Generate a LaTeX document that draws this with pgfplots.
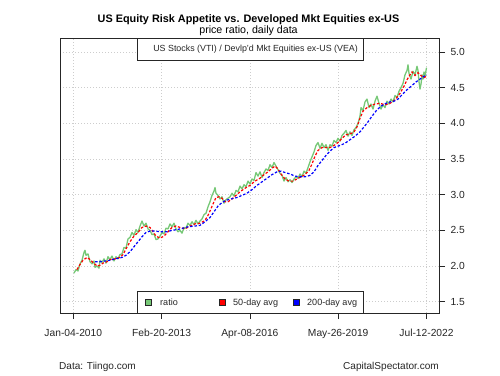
\documentclass[border=0pt]{standalone}
\usepackage{fontspec}
\setmainfont{Liberation Sans}
\usepackage{pgfplots}
\pgfplotsset{compat=1.18}
\definecolor{ratiogreen}{RGB}{118,200,118}
\definecolor{gridgray}{RGB}{205,205,205}
\begin{document}
\begin{tikzpicture}[x=1bp,y=1bp]
\path[use as bounding box] (0,0) rectangle (500,375);
\begin{axis}[at={(60bp,62bp)}, anchor=south west,
  width=379bp, height=275bp, scale only axis,
  xmin=60, xmax=439, ymin=1.341, ymax=5.196,
  xtick={73.3,161.6,249.9,338.2,426.5},
  xticklabels={Jan-04-2010,Feb-20-2013,Apr-08-2016,May-26-2019,Jul-12-2022},
  ytick={1.5,2.0,2.5,3.0,3.5,4.0,4.5,5.0},
  yticklabel style={/pgf/number format/fixed,/pgf/number format/fixed zerofill,/pgf/number format/precision=1},
  /pgf/number format/assume math mode=true,
  xtick pos=bottom, ytick pos=right,
  tick align=outside, major tick length=6bp,
  tick style={black!85, line width=0.6bp},
  grid=major, grid style={gridgray, dash pattern=on 1bp off 2bp, line width=0.7bp},
  axis line style={black!85, line width=0.8bp},
  tick label style={font=\fontsize{10.3}{12}\selectfont, text=black!85},
  x tick label style={yshift=-7bp},
  y tick label style={xshift=2bp},
  clip=true]
\addplot[ratiogreen, line width=1.3bp, line join=round] coordinates {
(74,1.90) (76,1.95) (78,1.93) (80,2.03) (82,2.08) (84,2.19) (85,2.22) (86,2.15) (88,2.17) (90,2.06)
(92,2.03) (94,2.07) (95,1.98) (97,2.00) (99,1.97) (100,2.08) (102,2.05) (104,2.10) (106,2.04) (108,2.13)
(110,2.09) (112,2.14) (114,2.07) (116,2.13) (118,2.10) (120,2.16) (122,2.17) (124,2.26) (126,2.25) (128,2.38)
(130,2.40) (132,2.47) (134,2.43) (136,2.51) (138,2.47) (140,2.56) (142,2.63) (144,2.56) (146,2.60) (148,2.52)
(150,2.50) (152,2.44) (154,2.45) (156,2.37) (158,2.38) (160,2.42) (162,2.47) (164,2.45) (166,2.53) (168,2.52)
(170,2.59) (172,2.55) (174,2.60) (176,2.52) (178,2.48) (180,2.50) (182,2.46) (184,2.54) (186,2.53) (188,2.60)
(190,2.57) (192,2.62) (194,2.58) (196,2.64) (198,2.59) (200,2.63) (202,2.66) (204,2.72) (206,2.74) (208,2.83)
(210,2.90) (212,2.99) (214,3.05) (215,3.10) (216,3.02) (218,2.99) (220,2.94) (222,2.97) (224,2.88) (226,2.93)
(228,2.95) (230,2.97) (232,3.02) (234,2.98) (236,3.06) (238,3.04) (240,3.12) (242,3.08) (244,3.14) (246,3.11)
(248,3.19) (250,3.15) (252,3.22) (254,3.20) (256,3.31) (258,3.26) (260,3.32) (262,3.24) (264,3.31) (266,3.36)
(268,3.34) (270,3.42) (272,3.38) (274,3.45) (276,3.40) (278,3.35) (280,3.30) (282,3.27) (284,3.19) (286,3.24)
(288,3.18) (290,3.21) (292,3.17) (294,3.22) (296,3.25) (298,3.23) (300,3.29) (302,3.25) (304,3.33) (306,3.30)
(308,3.38) (310,3.46) (312,3.53) (314,3.60) (316,3.69) (318,3.73) (320,3.65) (322,3.72) (324,3.66) (326,3.70)
(328,3.62) (330,3.70) (332,3.68) (334,3.76) (336,3.73) (338,3.79) (340,3.75) (342,3.83) (344,3.86) (346,3.90)
(348,3.82) (350,3.88) (352,3.83) (354,3.91) (356,3.94) (358,4.00) (360,4.10) (361,4.22) (363,4.18) (365,4.30)
(367,4.34) (369,4.22) (371,4.27) (373,4.20) (375,4.31) (377,4.38) (379,4.28) (381,4.20) (383,4.26) (385,4.22)
(387,4.31) (389,4.27) (391,4.34) (393,4.30) (395,4.39) (397,4.36) (399,4.45) (401,4.50) (403,4.56) (405,4.68)
(407,4.74) (408,4.82) (409,4.70) (411,4.62) (413,4.73) (415,4.68) (417,4.80) (418,4.74) (419,4.58) (420,4.48)
(421,4.55) (422,4.68) (423,4.62) (424,4.72) (425,4.66) (426.5,4.78)
};
\addplot[red, line width=1.2bp, dash pattern=on 2.5bp off 1.8bp] coordinates {
(77,1.95) (80,2.02) (83,2.08) (87,2.12) (90,2.09) (93,2.05) (97,2.00) (100,2.01) (103,2.04) (107,2.06)
(110,2.09) (115,2.10) (120,2.12) (123,2.16) (126,2.24) (130,2.34) (134,2.42) (138,2.47) (142,2.54) (146,2.56)
(150,2.54) (153,2.48) (156,2.42) (160,2.39) (164,2.42) (168,2.48) (172,2.54) (176,2.56) (180,2.54) (185,2.52)
(190,2.56) (195,2.59) (200,2.60) (204,2.63) (207,2.68) (210,2.77) (213,2.87) (216,2.96) (219,2.97) (222,2.95)
(225,2.90) (228,2.90) (232,2.94) (236,2.99) (240,3.04) (245,3.09) (250,3.13) (255,3.19) (260,3.23) (264,3.28)
(268,3.32) (272,3.37) (275,3.40) (278,3.36) (281,3.29) (285,3.22) (289,3.19) (293,3.19) (297,3.22) (301,3.25)
(305,3.28) (309,3.34) (312,3.43) (315,3.54) (318,3.62) (322,3.66) (326,3.66) (330,3.66) (334,3.69) (338,3.73)
(342,3.79) (346,3.84) (350,3.85) (354,3.88) (357,3.95) (360,4.07) (363,4.17) (367,4.22) (371,4.25) (375,4.27)
(380,4.28) (385,4.26) (390,4.28) (395,4.33) (400,4.42) (404,4.52) (407,4.61) (410,4.68) (412,4.72) (415,4.67)
(418,4.71) (421,4.67) (424,4.64) (426.5,4.66)
};
\addplot[blue, line width=1.2bp, dash pattern=on 2.5bp off 1.8bp] coordinates {
(95,2.06) (100,2.06) (105,2.07) (110,2.08) (115,2.10) (122,2.12) (126,2.15) (130,2.20) (134,2.27) (138,2.34)
(142,2.41) (146,2.47) (150,2.49) (155,2.49) (160,2.48) (167,2.48) (172,2.50) (177,2.51) (183,2.53) (188,2.55)
(195,2.56) (200,2.57) (205,2.62) (210,2.68) (214,2.76) (218,2.84) (222,2.89) (226,2.92) (231,2.94) (237,2.96)
(242,2.99) (247,3.02) (252,3.07) (257,3.13) (262,3.18) (267,3.23) (272,3.28) (277,3.32) (281,3.33) (285,3.31)
(290,3.29) (295,3.26) (300,3.25) (305,3.25) (310,3.27) (314,3.32) (318,3.41) (322,3.48) (326,3.55) (330,3.61)
(334,3.66) (340,3.69) (345,3.72) (350,3.77) (355,3.82) (360,3.88) (364,3.95) (368,4.02) (372,4.10) (377,4.19)
(382,4.25) (386,4.28) (390,4.30) (394,4.31) (398,4.34) (402,4.40) (407,4.47) (412,4.53) (416,4.58) (420,4.62)
(423,4.65) (426.5,4.68)
};
\end{axis}
% legends
\draw[black!85, line width=0.8bp, fill=white] (137,337) rectangle (363,315);
\node[anchor=east, inner sep=0pt, font=\fontsize{8.9}{10}\selectfont, text=black!85] at (358,326) {US Stocks (VTI) / Devlp'd Mkt Equities ex-US (VEA)};
\draw[black!85, line width=0.8bp, fill=white] (137,84) rectangle (363,62);
\draw[black!85, line width=0.5bp, fill=ratiogreen] (145,69.5) rectangle (151,75.5);
\draw[black!85, line width=0.5bp, fill=red] (219,69.5) rectangle (225,75.5);
\draw[black!85, line width=0.5bp, fill=blue] (293,69.5) rectangle (299,75.5);
\begin{scope}[every node/.style={anchor=west, inner sep=0pt, font=\fontsize{9.1}{10}\selectfont, text=black!85}]
\node at (160,72.3) {ratio};
\node at (233,72.3) {50-day avg};
\node at (307,72.3) {200-day avg};
\end{scope}
% titles
\node[font=\bfseries\fontsize{10.9}{13}\selectfont, inner sep=0pt] at (248.5,355) {US Equity Risk Appetite vs. Developed Mkt Equities ex-US};
\node[font=\fontsize{10.7}{12}\selectfont, inner sep=0pt] at (248.5,344) {price ratio, daily data};
\node[anchor=west, inner sep=0pt, font=\fontsize{10.1}{12}\selectfont, text=black!85] at (59,8) {Data: Tiingo.com};
\node[anchor=east, inner sep=0pt, font=\fontsize{10.1}{12}\selectfont, text=black!85] at (439,8) {CapitalSpectator.com};
\end{tikzpicture}
\end{document}
